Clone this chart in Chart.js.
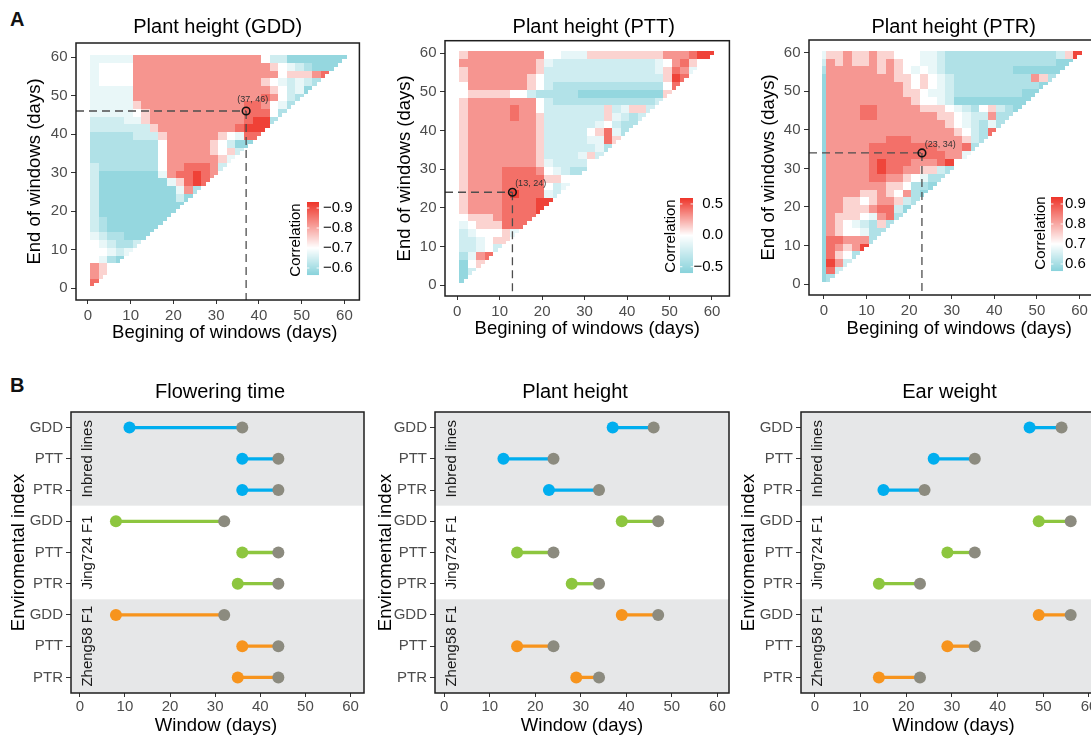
<!DOCTYPE html>
<html><head><meta charset="utf-8">
<script src="https://cdn.jsdelivr.net/npm/chart.js@4.4.1/dist/chart.umd.min.js"></script>
<style>
html,body{margin:0;padding:0;background:#fff;}
body{width:1091px;height:735px;overflow:hidden;position:relative;}
canvas{position:absolute;}
.tag{position:absolute;font:bold 20px/20px 'Liberation Sans',Arial,sans-serif;color:#111;}
</style></head><body>
<div class="tag" style="left:10px;top:9px">A</div>
<div class="tag" style="left:10px;top:375px">B</div>
<canvas id="a1" width="365" height="345" style="left:0px;top:0px"></canvas>
<canvas id="a2" width="370" height="345" style="left:365px;top:0px"></canvas>
<canvas id="a3" width="370" height="345" style="left:730px;top:0px"></canvas>
<canvas id="b1" width="370" height="368" style="left:0px;top:370px"></canvas>
<canvas id="b2" width="370" height="368" style="left:365px;top:370px"></canvas>
<canvas id="b3" width="370" height="368" style="left:730px;top:370px"></canvas>
<script>
// ---------------- DATA ----------------
const DAY_TICKS = [0, 10, 20, 30, 40, 50, 60];
const LAST_DAY = 60;

// Panel A heatmaps: one code (0..9) per 2-day block, decoded to a correlation via *_LEVELS.
// Row 0 = end of window days 59-60 (downwards), column 0 = beginning days 1-2 (rightwards).
const GDD_LEVELS = [-0.565, -0.58, -0.61, -0.645, -0.675, -0.70, -0.75, -0.82, -0.865, -0.915];
const GDD_GRID = [
  "44444 7 77777777777777 5 33 1111111",
  "4 5555 7 777777777777777 6 5 432111",
  "4 5555 7 7777777777777777 5 666 7 8",
  "4 5555 7 77777777777777 6 5 4 3 4 3 2",
  "44444 7 777777777777777 6 5 3 4 1",
  "44444 7 77777777777777 8 7 5 3 2",
  "44444 6 7 77777777777 8 8 7 5 4 2",
  "44444 5 6 77777777777 8 8 8 5 2",
  "333344 6 7 777777777 7 8 9 9 2",
  "3333333 6 7 77777777 8 9 9 9",
  "22222333 6 777777 6 5 4 8 8",
  "22222222 5 77777 6 5 3 1 1",
  "22222222 5 77777 6 5 6 3",
  "22222222 5 777777 6 4",
  "3 2222222 5 7 7 8 8 8 7 3",
  "3 1111111 4 7 8 8 9 8 7",
  "3 11111111 4 6 8 9 8",
  "3 111111111 4 7 2",
  "3 111111111 3 1",
  "3 1111111111",
  "3 111111111",
  "3 2 1111111",
  "3 2 111111",
  "4 3 2 2 1 1 1",
  "5 4 3 2 2 3",
  "5 5 4 3 4",
  "5 4 2 1",
  "7 6 5",
  "7 6",
  "8"
];
const GDD_BEST = [37, 46];
const GDD_LEGEND_TICKS = [-0.9, -0.8, -0.7, -0.6];
const GDD_LEGEND_LABELS = ["\u22120.9", "\u22120.8", "\u22120.7", "\u22120.6"];

const PTT_LEVELS = [-0.60, -0.54, -0.39, -0.24, -0.12, 0.00, 0.13, 0.31, 0.42, 0.55];
const PTT_GRID = [
  "6777777777 5 5444 6 66666666 777 8 9 9",
  "777777777 6 4 333333333333 4 5 7 8 6 5",
  "6 77777777 6 3 333333333333 4 6 8 7 4",
  "6 7777777 6 5 3 333333333333 3 6 9 8",
  "5 7777777 6 5 3 222222222222 2 5 8",
  "56666655 3 22222 1111111111 6",
  "6 77777777 5 3 222222222222 3",
  "6 7777 787 7 5 3 333333 6 3 4 6 6 3",
  "6 7777 7877 6 3 333333 6 4 3 2 3",
  "6 77777777 6 3 33333 4 5 3 2 2",
  "6 77777777 6 3 3333 5 6 8 4 2",
  "6 77777777 6 3 3333 4 4 8 6",
  "6 77777777 6 3 33333 4 2",
  "6 77777777 6 3 333 4 6 3",
  "6 77777777 6 4 333 3 5",
  "6 7777 8888 7 5 4 3 2 2",
  "6 7777 8888 8 6 6 5 5",
  "6 7777 8 888 8 5 3 4",
  "6 7777 8 9 8 8 8 4 3",
  "6 7777 8888 9 9",
  "6 777 7 8888 9",
  "5 666 7 888 8",
  "4 5 6 6 6 8 8 8",
  "3 4 5 5 5 6 4",
  "3 3 4 5 6 6",
  "3 3 4 5 3",
  "2 4 7 8",
  "1 5 6",
  "1 3",
  "1"
];
const PTT_BEST = [13, 24];
const PTT_LEGEND_TICKS = [0.5, 0.0, -0.5];
const PTT_LEGEND_LABELS = ["0.5", "0.0", "\u22120.5"];

const PTR_LEVELS = [0.565, 0.58, 0.61, 0.645, 0.675, 0.70, 0.75, 0.82, 0.865, 0.915];
const PTR_GRID = [
  "66766766 5 5 5 4 4 3 22222222222223 6 9",
  "76766767 6 5 5 4 4 3 2 222222222222 1 1",
  "77777767 6 5 4 5 4 3 222222221111 1 1",
  "77777777 6 6 5 6 5 4 3 222222222 7 6 2",
  "77777777 7 6 5 6 5 4 3 222222222 2 1",
  "777777777 6 6 5 4 4 3 2222222211",
  "7777777777 6 5 5 4 3 111111111",
  "77778877777 6 6 6 5 4 3 2 5 6 3 2 1",
  "77778877777 7 7 6 6 5 4 3 3 7 2 2",
  "77777777777777 6 5 4 3 2 4 2",
  "777777777777777 6 5 3 2 8",
  "7777777888777777 6 3 2",
  "77777 8888888 877 7 8 2",
  "77777 8888 8 8 8 8 8 7 7 4",
  "77777 8 9 8 8 8 7 7 7 8 9 5",
  "77777 8 9 8 8 7 7 6 6 3 2",
  "77777 8 8 7 7 6 5 4 2 2",
  "77777 7 7 6 6 5 2 2 1",
  "7777 6 6 7 6 5 7 2 1",
  "7766 5 6 7 7 6 3 2",
  "7766 6 7 8 8 3 1",
  "7666 5 4 7 8 2",
  "7 6 5 4 3 2 6 2",
  "7 6 5 5 4 2 2",
  "8 8 7 7 7 2",
  "8 7 6 7 9",
  "8 6 5 2",
  "9 7 3",
  "8 3",
  "2"
];
// beginning-day-0 column (one code per 2-day end block, top to bottom)
const PTR_DAY0 = "432111111111111111111111111111";
const PTR_BEST = [23, 34];
const PTR_LEGEND_TICKS = [0.9, 0.8, 0.7, 0.6];
const PTR_LEGEND_LABELS = ["0.9", "0.8", "0.7", "0.6"];

// Panel B dumbbells
const INDEX_LABELS = ["GDD", "PTT", "PTR", "GDD", "PTT", "PTR", "GDD", "PTT", "PTR"];
const GROUPS = ["Inbred lines", "Jing724 F1", "Zheng58 F1"];
const FT_START = [11, 36, 36, 8, 36, 35, 8, 36, 35];
const FT_END   = [36, 44, 44, 32, 44, 44, 32, 44, 44];
const PH_START = [37, 13, 23, 39, 16, 28, 39, 16, 29];
const PH_END   = [46, 24, 34, 47, 24, 34, 47, 24, 34];
const EW_START = [47, 26, 15, 49, 29, 14, 49, 29, 14];
const EW_END   = [54, 35, 24, 56, 35, 23, 56, 35, 23];

// ---------------- STYLE ----------------
const FONT = "'Liberation Sans', Arial, Helvetica, sans-serif";
Chart.defaults.font.family = FONT;
Chart.defaults.color = '#4D4D4D';
Chart.defaults.animation = false;
const CYAN = [136, 210, 219], RED = [238, 52, 41];
const GROUP_COLORS = ['#00AEEF', '#8DC63F', '#F7941D'];
const END_COLOR = '#8C8B7F';
const BAND = '#E6E7E8';
const BAND_SHADE = [true, false, true];

function heatColor(v, s) {
  const up = (v - s.mid) / (s.high - s.mid);
  let t, end;
  if (up >= 0) { t = up; end = RED; } else { t = (v - s.mid) / (s.low - s.mid); end = CYAN; }
  t = Math.max(0, Math.min(1, t));
  const c = end.map(k => Math.round(255 + (k - 255) * t));
  return 'rgb(' + c[0] + ',' + c[1] + ',' + c[2] + ')';
}

function dayAxis(range, title, size, tickLen, pad, titlePad, isY) {
  const ax = {
    type: 'linear', min: range[0], max: range[1],
    afterBuildTicks: s => { s.ticks = DAY_TICKS.map(v => ({value: v})); },
    grid: {drawOnChartArea: false, drawTicks: true, tickLength: tickLen, tickColor: '#333', tickWidth: 1},
    border: {display: false},
    ticks: {autoSkip: false, maxRotation: 0, padding: pad, color: '#4D4D4D', font: {size: 15}},
    title: {display: isY, text: title, color: '#000', font: {size: 18.5}, padding: {top: titlePad, bottom: 0}}
  };
  if (isY) ax.afterFit = s => { s.width = size; }; else ax.afterFit = s => { s.height = size; };
  return ax;
}

// panel title + x-axis title (drawn centred on the panel with small measured shifts)
function drawTitles(ctx, ca, p, xTitle) {
  ctx.save();
  ctx.fillStyle = '#000'; ctx.textAlign = 'center'; ctx.textBaseline = 'middle';
  ctx.font = '20px ' + FONT;
  ctx.fillText(p.title, (ca.left + ca.right) / 2 + p.tDx, p.tY);
  ctx.font = '18.5px ' + FONT;
  ctx.fillText(xTitle, (ca.left + ca.right) / 2 + p.xDx, ca.bottom + p.xDy);
  ctx.restore();
}

function drawBox(ctx, ca) {
  ctx.save();
  ctx.strokeStyle = '#1E1E1E'; ctx.lineWidth = 1.5;
  ctx.strokeRect(ca.left, ca.top, ca.right - ca.left, ca.bottom - ca.top);
  ctx.restore();
}

const HEAT_PANELS = [
  {id: 'a1', title: 'Plant height (GDD)', grid: GDD_GRID, levels: GDD_LEVELS, day0: null, best: GDD_BEST,
   low: -0.565, mid: -0.70, high: -0.93, lticks: GDD_LEGEND_TICKS, llabels: GDD_LEGEND_LABELS,
   xr: [-2.8, 63.5], yr: [-3.04, 63.64], yW: 76, xH: 45, padR: 4, padT: 43, yTP: 23.9,
   tDx: 0, tY: 27, xDx: 7, xDy: 33,
   leg: {x: 307, y: 202, w: 12, h: 73, lx: 323, align: 'left', tx: 296, ty: 240},
   lab: {dx: 6.7, dy: -11.7, align: 'center'}},
  {id: 'a2', title: 'Plant height (PTT)', grid: PTT_GRID, levels: PTT_LEVELS, day0: null, best: PTT_BEST,
   low: -0.60, mid: 0.0, high: 0.595, lticks: PTT_LEGEND_TICKS, llabels: PTT_LEGEND_LABELS,
   xr: [-2.88, 64.1], yr: [-2.84, 63.2], yW: 80, xH: 49, padR: 4, padT: 40.7, yTP: 28.9,
   tDx: 6.5, tY: 27, xDx: 0, xDy: 33,
   leg: {x: 315, y: 198, w: 13, h: 75, lx: 358, align: 'right', tx: 306, ty: 236},
   lab: {dx: 2.7, dy: -8.7, align: 'left'}},
  {id: 'a3', title: 'Plant height (PTR)', grid: PTR_GRID, levels: PTR_LEVELS, day0: PTR_DAY0, best: PTR_BEST,
   low: 0.565, mid: 0.70, high: 0.935, lticks: PTR_LEGEND_TICKS, llabels: PTR_LEGEND_LABELS,
   xr: [-3.52, 63.5], yr: [-2.85, 63.3], yW: 79, xH: 50, padR: 5, padT: 40, yTP: 27.9,
   tDx: 2, tY: 27, xDx: 7.5, xDy: 34,
   leg: {x: 321, y: 197, w: 12, h: 74, lx: 335, align: 'left', tx: 311, ty: 233},
   lab: {dx: 2.7, dy: -8.7, align: 'left'}}
];

function makeHeat(p) {
  const plugin = {
    id: 'heat_' + p.id,
    beforeDatasetsDraw(chart) {
      const {ctx, chartArea: ca, scales: {x, y}} = chart;
      ctx.save();
      ctx.beginPath(); ctx.rect(ca.left, ca.top, ca.right - ca.left, ca.bottom - ca.top); ctx.clip();
      const cell = (b, e, code) => {
        ctx.fillStyle = heatColor(p.levels[code], p);
        const x0 = Math.round(x.getPixelForValue(b - 0.5)), x1 = Math.round(x.getPixelForValue(b + 0.5));
        const y0 = Math.round(y.getPixelForValue(e + 0.5)), y1 = Math.round(y.getPixelForValue(e - 0.5));
        ctx.fillRect(x0, y0, x1 - x0, y1 - y0);
      };
      p.grid.forEach((row, r) => {
        const s = row.replace(/\s+/g, '');
        const eTop = LAST_DAY - 2 * r;
        for (let c = 0; c < s.length; c++) {
          const code = +s[c];
          for (let b = 2 * c + 1; b <= 2 * c + 2; b++)
            for (let e = eTop - 1; e <= eTop; e++) if (b <= e) cell(b, e, code);
        }
        if (p.day0) for (let e = eTop - 1; e <= eTop; e++) cell(0, e, +p.day0[r]);
      });
      ctx.restore();
    },
    afterDraw(chart) {
      const {ctx, chartArea: ca, scales: {x, y}} = chart;
      const px = x.getPixelForValue(p.best[0]), py = y.getPixelForValue(p.best[1]);
      ctx.save();
      ctx.font = '9px ' + FONT; ctx.fillStyle = '#333';
      ctx.textAlign = p.lab.align; ctx.textBaseline = 'middle';
      ctx.fillText('(' + p.best[0] + ', ' + p.best[1] + ')', px + p.lab.dx, py + p.lab.dy);
      const L = p.leg;
      for (let i = 0; i < L.h; i++) {
        const v = p.high + (p.low - p.high) * (i + 0.5) / L.h;
        ctx.fillStyle = heatColor(v, p);
        ctx.fillRect(L.x, L.y + i, L.w, 1.05);
      }
      ctx.font = '15px ' + FONT; ctx.textAlign = L.align; ctx.textBaseline = 'middle';
      p.lticks.forEach((t, i) => {
        const ty = L.y + L.h * (p.high - t) / (p.high - p.low);
        ctx.strokeStyle = 'rgba(255,255,255,0.9)'; ctx.lineWidth = 1;
        ctx.beginPath();
        ctx.moveTo(L.x, ty); ctx.lineTo(L.x + 2.4, ty);
        ctx.moveTo(L.x + L.w - 2.4, ty); ctx.lineTo(L.x + L.w, ty);
        ctx.stroke();
        ctx.fillStyle = '#000';
        ctx.fillText(p.llabels[i], L.lx, ty);
      });
      ctx.translate(L.tx, L.ty); ctx.rotate(-Math.PI / 2);
      ctx.textAlign = 'center'; ctx.fillStyle = '#000';
      ctx.fillText('Correlation', 0, 0);
      ctx.restore();
      drawBox(ctx, ca);
      drawTitles(ctx, ca, p, 'Begining of windows (days)');
    }
  };
  const b = p.best;
  return new Chart(document.getElementById(p.id), {
    type: 'scatter',
    data: {datasets: [
      {data: [{x: b[0], y: b[1]}], pointRadius: 3.8, pointBorderWidth: 1.6, pointBorderColor: '#111',
       pointBackgroundColor: 'rgba(0,0,0,0)', order: 1},
      {data: [{x: p.xr[0], y: b[1]}, {x: b[0], y: b[1]}], showLine: true, borderColor: '#4D4D4D',
       borderWidth: 1.3, borderDash: [8, 5], pointRadius: 0, order: 2},
      {data: [{x: b[0], y: b[1]}, {x: b[0], y: p.yr[0]}], showLine: true, borderColor: '#4D4D4D',
       borderWidth: 1.3, borderDash: [8, 5], pointRadius: 0, order: 2}
    ]},
    options: {
      responsive: false, devicePixelRatio: 1, events: [],
      layout: {padding: {left: 0, right: p.padR, top: p.padT, bottom: 0}},
      plugins: {legend: {display: false}, tooltip: {enabled: false}, title: {display: false}},
      scales: {
        x: dayAxis(p.xr, '', p.xH, 4, 3, 0, false),
        y: dayAxis(p.yr, 'End of windows (days)', p.yW, 5, 3.5, p.yTP, true)
      }
    },
    plugins: [plugin]
  });
}

const DUMB_PANELS = [
  {id: 'b1', title: 'Flowering time', start: FT_START, end: FT_END, xr: [-1.96, 62.98], yW: 71, padR: 1, yTP: 7.7,
   tDx: 2.5, tY: 22, xDx: -1.5, xDy: 33},
  {id: 'b2', title: 'Plant height', start: PH_START, end: PH_END, xr: [-2.03, 62.55], yW: 70, padR: 4, yTP: 9.4,
   tDx: -7, tY: 22, xDx: 0, xDy: 33},
  {id: 'b3', title: 'Ear weight', start: EW_START, end: EW_END, xr: [-3.05, 61.1], yW: 71, padR: 5, yTP: 7.9,
   tDx: 2, tY: 22, xDx: 6, xDy: 33}
];

function makeDumbbell(p) {
  const plugin = {
    id: 'dumb_' + p.id,
    beforeDatasetsDraw(chart) {
      const {ctx, chartArea: ca, scales: {y}} = chart;
      ctx.save();
      GROUPS.forEach((g, gi) => {
        const y0 = y.getPixelForValue(gi * 3 + 0.5), y1 = y.getPixelForValue(gi * 3 + 3.5);
        if (BAND_SHADE[gi]) {
          ctx.fillStyle = BAND;
          ctx.fillRect(ca.left, Math.min(y0, y1), ca.right - ca.left, Math.abs(y1 - y0));
        }
      });
      GROUPS.forEach((g, gi) => {
        const y0 = y.getPixelForValue(gi * 3 + 0.5), y1 = y.getPixelForValue(gi * 3 + 3.5);
        ctx.save();
        ctx.translate(ca.left + 17, (y0 + y1) / 2); ctx.rotate(-Math.PI / 2);
        ctx.font = '15px ' + FONT; ctx.fillStyle = '#1A1A1A';
        ctx.textAlign = 'center'; ctx.textBaseline = 'middle';
        ctx.fillText(g, 0, 0);
        ctx.restore();
      });
      ctx.restore();
    },
    afterDraw(chart) {
      drawBox(chart.ctx, chart.chartArea);
      drawTitles(chart.ctx, chart.chartArea, p, 'Window (days)');
    }
  };
  const ds = [];
  p.start.forEach((s, i) => {
    ds.push({data: [{x: s, y: i + 1}, {x: p.end[i], y: i + 1}], showLine: true,
             borderColor: GROUP_COLORS[Math.floor(i / 3)], borderWidth: 3.3, pointRadius: 0, order: 3});
  });
  ds.push({data: p.end.map((e, i) => ({x: e, y: i + 1})), pointRadius: 6, pointBorderWidth: 0,
           pointBackgroundColor: END_COLOR, backgroundColor: END_COLOR, borderColor: END_COLOR, order: 2});
  GROUPS.forEach((g, gi) => {
    ds.push({data: p.start.slice(gi * 3, gi * 3 + 3).map((s, k) => ({x: s, y: gi * 3 + k + 1})),
             pointRadius: 6, pointBorderWidth: 0, pointBackgroundColor: GROUP_COLORS[gi],
             backgroundColor: GROUP_COLORS[gi], borderColor: GROUP_COLORS[gi], order: 1});
  });
  return new Chart(document.getElementById(p.id), {
    type: 'scatter',
    data: {datasets: ds},
    options: {
      responsive: false, devicePixelRatio: 1, events: [],
      layout: {padding: {left: 0, right: p.padR, top: 42, bottom: 0}},
      plugins: {legend: {display: false}, tooltip: {enabled: false}, title: {display: false}},
      scales: {
        x: dayAxis(p.xr, '', 45, 4, 1, 0, false),
        y: {
          type: 'linear', min: 0.5, max: 9.5, reverse: true,
          afterBuildTicks: s => { s.ticks = INDEX_LABELS.map((l, i) => ({value: i + 1})); },
          afterFit: s => { s.width = p.yW; },
          grid: {drawOnChartArea: false, drawTicks: true, tickLength: 5, tickColor: '#333', tickWidth: 1},
          border: {display: false},
          ticks: {autoSkip: false, padding: 3, color: '#4D4D4D', font: {size: 15},
                  callback: v => INDEX_LABELS[Math.round(v) - 1]},
          title: {display: true, text: 'Enviromental index', color: '#000', font: {size: 18.5},
                  padding: {top: p.yTP, bottom: 0}}
        }
      }
    },
    plugins: [plugin]
  });
}

HEAT_PANELS.forEach(makeHeat);
DUMB_PANELS.forEach(makeDumbbell);
</script>
</body></html>
